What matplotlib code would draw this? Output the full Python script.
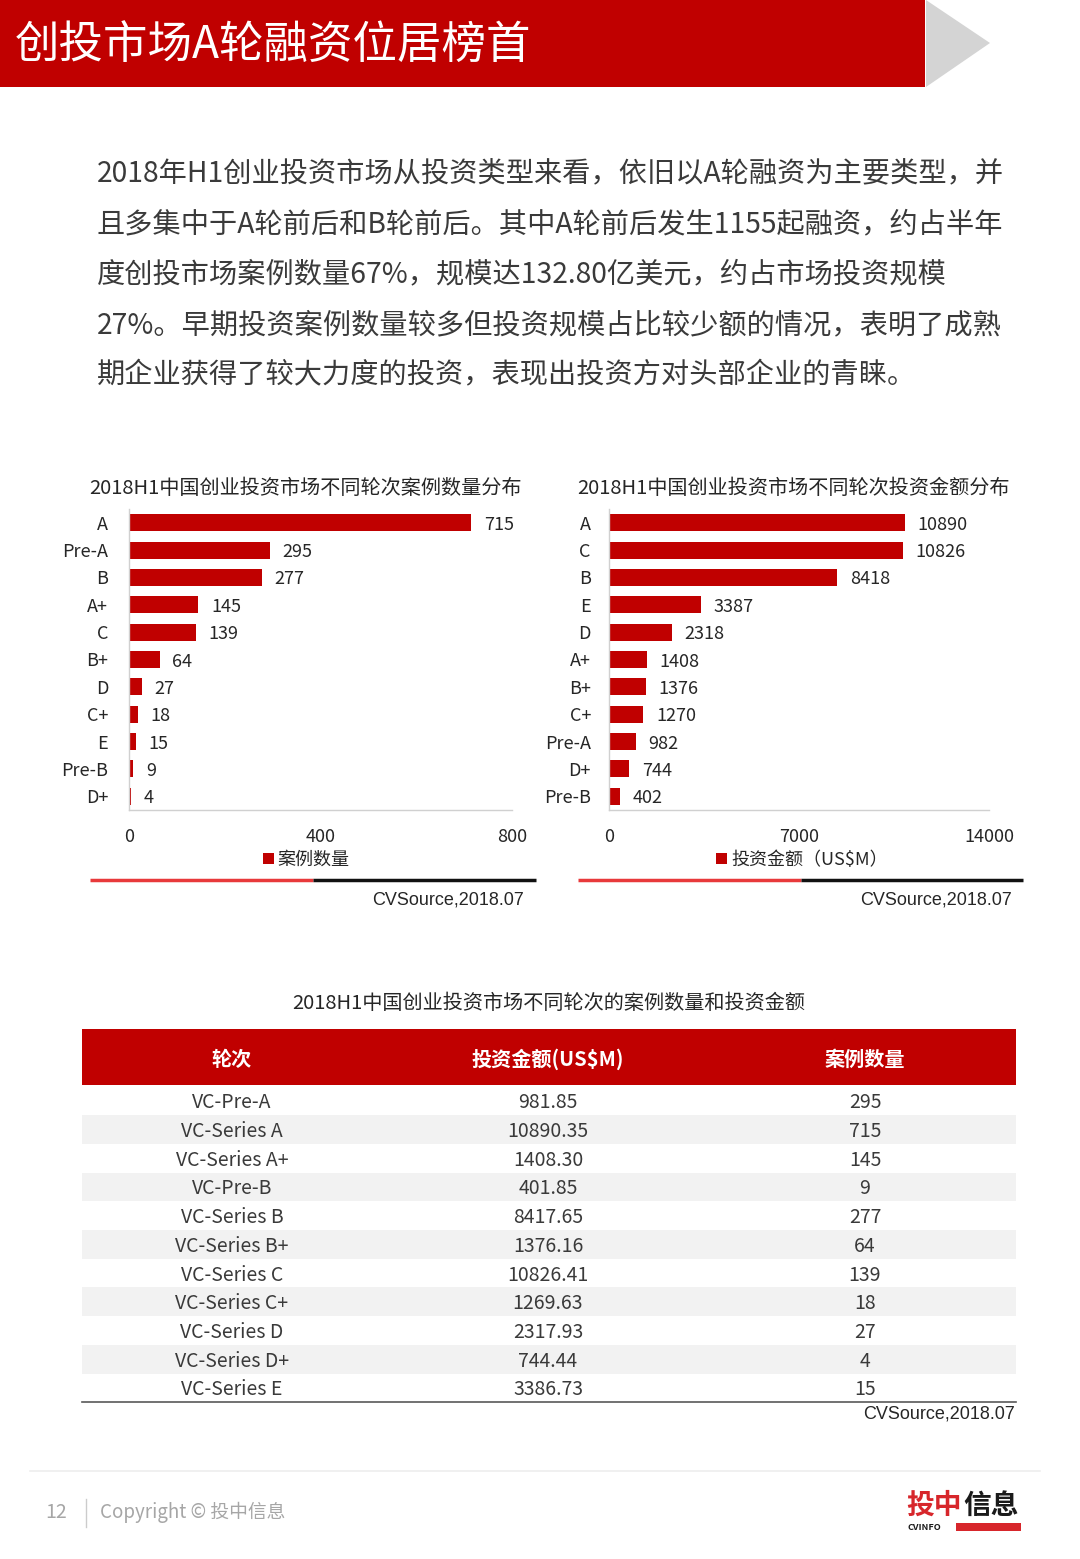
import numpy as np
import matplotlib
matplotlib.use("Agg")
import matplotlib.pyplot as plt
from matplotlib.patches import Rectangle, Polygon

plt.rcParams["font.family"] = ["Noto Sans CJK SC", "DejaVu Sans"]

W, H = 1080, 1559
RED = "#C00000"
TXT = "#262626"

# ---- data ----
cnt_rounds = ["A", "Pre-A", "B", "A+", "C", "B+", "D", "C+", "E", "Pre-B", "D+"]
cnt_values = [715, 295, 277, 145, 139, 64, 27, 18, 15, 9, 4]

amt_rounds = ["A", "C", "B", "E", "D", "A+", "B+", "C+", "Pre-A", "D+", "Pre-B"]
amt_values = [10890, 10826, 8418, 3387, 2318, 1408, 1376, 1270, 982, 744, 402]

tbl_rounds = ["VC-Pre-A", "VC-Series A", "VC-Series A+", "VC-Pre-B", "VC-Series B",
              "VC-Series B+", "VC-Series C", "VC-Series C+", "VC-Series D",
              "VC-Series D+", "VC-Series E"]
tbl_amount = ["981.85", "10890.35", "1408.30", "401.85", "8417.65", "1376.16",
              "10826.41", "1269.63", "2317.93", "744.44", "3386.73"]
tbl_count = ["295", "715", "145", "9", "277", "64", "139", "18", "27", "4", "15"]
tbl_header = ["轮次", "投资金额(US$M)", "案例数量"]

para = [
    "2018年H1创业投资市场从投资类型来看，依旧以A轮融资为主要类型，并",
    "且多集中于A轮前后和B轮前后。其中A轮前后发生1155起融资，约占半年",
    "度创投市场案例数量67%，规模达132.80亿美元，约占市场投资规模",
    "27%。早期投资案例数量较多但投资规模占比较少额的情况，表明了成熟",
    "期企业获得了较大力度的投资，表现出投资方对头部企业的青睐。",
]

fig = plt.figure(figsize=(W / 100, H / 100), dpi=100)
fig.patch.set_facecolor("white")

# background axes in pixel coordinates
bg = fig.add_axes([0, 0, 1, 1])
bg.set_xlim(0, W)
bg.set_ylim(H, 0)
bg.axis("off")

# header band
bg.add_patch(Rectangle((0, 0), 925, 87, color=RED, lw=0))
bg.add_patch(Polygon([(926, 0), (990, 43), (926, 87)], closed=True, color="#D4D4D4", lw=0))
bg.text(15, 46, "创投市场A轮融资位居榜首", color="white", fontsize=32,
        va="center", ha="left")

# paragraph
for i, line in enumerate(para):
    bg.text(97, 174 + i * 50.3, line, fontsize=20.3, color="#3A3A3A",
            va="center", ha="left")

SRC_FONT = ["Liberation Sans", "DejaVu Sans"]


def bar_chart(left, right, values, cats, xmax, ticks, title, tcx, legend_lbl, lcx,
              line_x0, line_x1, src_x, ypad):
    top, bottom = 509, 810
    ax = fig.add_axes([left / W, 1 - bottom / H, (right - left) / W, (bottom - top) / H])
    y = np.arange(len(cats))
    ax.barh(y, values, height=0.62, color=RED, label=legend_lbl)
    ax.set_ylim(len(cats) - 0.5, -0.5)
    ax.set_xlim(0, xmax)
    ax.set_xticks(ticks)
    ax.set_xticklabels([str(t) for t in ticks])
    ax.set_yticks(y)
    ax.set_yticklabels(cats)
    ax.tick_params(length=0, labelsize=13, colors=TXT)
    ax.tick_params(axis="x", pad=13)
    ax.tick_params(axis="y", pad=ypad)
    for s in ["top", "right"]:
        ax.spines[s].set_visible(False)
    for s in ["left", "bottom"]:
        ax.spines[s].set_color("#D0D0D0")
        ax.spines[s].set_linewidth(1.0)
    for yi, v in zip(y, values):
        ax.annotate(str(v), (v, yi), xytext=(9, -1.5), textcoords="offset points",
                    va="center", ha="left", fontsize=13, color=TXT)
    ax.legend(loc="center", bbox_to_anchor=(lcx / W, 1 - 860 / H),
              bbox_transform=fig.transFigure, frameon=False, fontsize=13,
              handlelength=0.6, handleheight=0.6, handletextpad=0.2,
              labelcolor=TXT)
    bg.text(tcx, 488, title, fontsize=14.5, color=TXT, ha="center", va="center")
    mid = (line_x0 + line_x1) / 2
    bg.plot([line_x0, mid], [880, 880], color="#E8393B", lw=2.5, solid_capstyle="butt")
    bg.plot([mid, line_x1], [880, 880], color="#111111", lw=2.5, solid_capstyle="butt")
    bg.text(src_x, 900, "CVSource,2018.07", fontsize=13, color=TXT,
            ha="right", va="center", family=SRC_FONT)


bar_chart(129, 512, cnt_values, cnt_rounds, 800, [0, 400, 800],
          "2018H1中国创业投资市场不同轮次案例数量分布", 305, "案例数量", 306,
          90, 536, 524, 15)
bar_chart(609, 989, amt_values, amt_rounds, 14000, [0, 7000, 14000],
          "2018H1中国创业投资市场不同轮次投资金额分布", 793, "投资金额（US$M）", 802,
          578, 1023, 1012, 13)

# table
bg.text(549, 1003, "2018H1中国创业投资市场不同轮次的案例数量和投资金额",
        fontsize=14.5, color=TXT, ha="center", va="center")
tx0, tx1 = 82, 1016
col_x = [232, 548, 865]
bg.add_patch(Rectangle((tx0, 1029), tx1 - tx0, 56, color=RED, lw=0))
for cx, h in zip(col_x, tbl_header):
    bg.text(cx, 1059, h, fontsize=14.5, color="white", fontweight="bold",
            ha="center", va="center")
row0, rh = 1086.5, 28.7
for i in range(len(tbl_rounds)):
    yc = row0 + rh * (i + 0.5)
    if i % 2 == 1:
        bg.add_patch(Rectangle((tx0, row0 + rh * i), tx1 - tx0, rh, color="#F2F2F2", lw=0))
    for cx, val in zip(col_x, [tbl_rounds[i], tbl_amount[i], tbl_count[i]]):
        bg.text(cx, yc + 2, val, fontsize=14, color="#3A3A3A", ha="center", va="center")
bottom_y = row0 + rh * len(tbl_rounds)
bg.plot([tx0, tx1], [bottom_y, bottom_y], color="#595959", lw=1.2)
bg.text(1015, 1414, "CVSource,2018.07", fontsize=13, color=TXT, ha="right",
        va="center", family=SRC_FONT)

# footer
bg.plot([30, 1040], [1471, 1471], color="#EEEEEE", lw=1.2)
bg.text(45, 1513, "12", fontsize=14, color="#A6A6A6", ha="left", va="center")
bg.plot([86, 86], [1499, 1527], color="#CCCCCC", lw=1)
bg.text(100, 1512, "Copyright © 投中信息", fontsize=13.5, color="#A6A6A6",
        ha="left", va="center")
bg.text(906, 1506, "投中", fontsize=20, color="#D7262B", fontweight="black",
        ha="left", va="center")
bg.text(963, 1506, "信息", fontsize=20, color="#1A1A1A", fontweight="black",
        ha="left", va="center")
bg.text(907, 1527, "CVINFO", fontsize=6.5, color="#1A1A1A", fontweight="bold",
        ha="left", va="center")
bg.add_patch(Rectangle((956, 1523), 65, 8, color="#D7262B", lw=0))

fig.savefig("out.png", dpi=100, facecolor="white")
